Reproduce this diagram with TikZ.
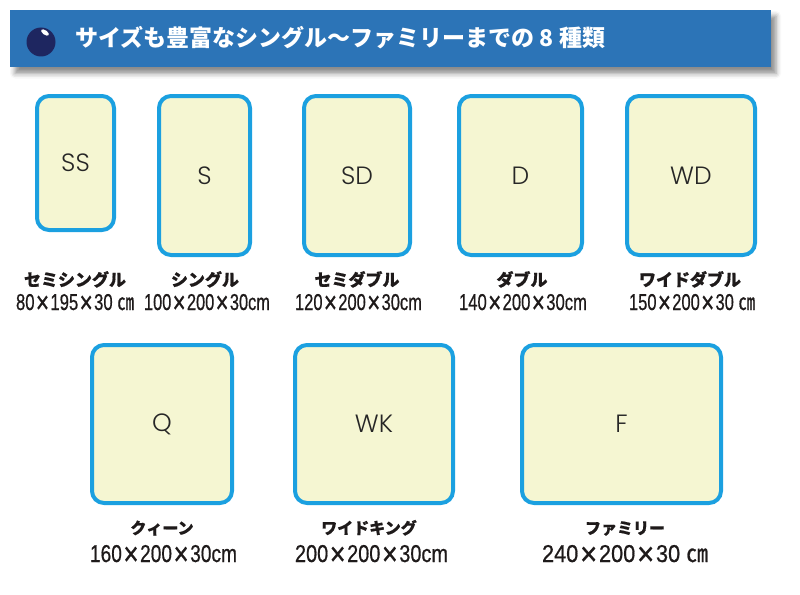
\documentclass[tikz,border=0pt]{standalone}
\usepackage{fontspec}
\usepackage{graphicx}
\setmainfont{Liberation Sans}
\newfontfamily\dimfont{Liberation Sans}[FakeBold=0.7]
\newfontfamily\cjk{Noto Sans CJK JP}
\newfontfamily\cjkdim{Noto Sans CJK JP}[FakeBold=1]
\newfontfamily\cjkname{Noto Sans CJK JP}[BoldFeatures={FakeBold=0.6}]
\newfontfamily\boxfont{Poppins Light}
\usetikzlibrary{shadows.blur}
\definecolor{bedblue}{RGB}{27,160,224}
\definecolor{bedfill}{RGB}{245,246,210}
\definecolor{hdrblue}{RGB}{44,116,183}
\definecolor{navyball}{RGB}{30,38,96}
\definecolor{inkc}{RGB}{30,26,26}
\tikzset{
  bed/.style={draw=bedblue, line width=4pt, fill=bedfill, rounded corners=12pt,
    inner sep=0pt, font=\boxfont\fontsize{25}{26}\selectfont, text=black!85},
  bedname/.style={anchor=base, inner sep=0pt, text=inkc,
    font=\cjkname\bfseries\fontsize{17}{18}\selectfont},
  bednametwo/.style={bedname, font=\cjkname\bfseries\fontsize{16}{17}\selectfont},
  beddim/.style={anchor=base, inner sep=0pt, text=inkc, font=\dimfont},
  header/.style={fill=hdrblue, inner sep=0pt,
    blur shadow={shadow xshift=5pt, shadow yshift=-6pt, shadow blur radius=5pt, shadow opacity=45}},
  icon/.style={circle, fill=navyball, inner sep=0pt, minimum size=29pt},
  titletext/.style={anchor=base west, inner sep=0pt, text=white,
    font=\cjk\bfseries\fontsize{23}{24}\selectfont}
}
\newcommand\dimtext[3]{\resizebox{#1pt}{#2pt}{#3}}
\newcommand\tms{\makebox[0.95em]{\raisebox{-0.125em}{\scalebox{1.35}{×}}}}
\newcommand\cmu{{\cjkdim ㎝}}
\begin{document}
\begin{tikzpicture}[x=1pt,y=-1pt]
\useasboundingbox (0,0) rectangle (800,594);
% header
\node[header, minimum width=761pt, minimum height=57.5pt] (hdr) at (390.5,38.75) {};
\node[icon] (ico) at (41,42) {};
\fill[white] (45,32.5) ellipse [x radius=4.5, y radius=2.2, rotate=-35];
\node[titletext] (title) at (75,46.5) {サイズも豊富なシングル～ファミリーまでの 8 種類};
% row 1 beds
\node[bed, minimum width=77pt, minimum height=134pt] (ss) at (75.5,163) {SS};
\node[bed, minimum width=91pt, minimum height=159pt] (s) at (204.5,175.5) {S};
\node[bed, minimum width=106pt, minimum height=159pt] (sd) at (357,175.5) {SD};
\node[bed, minimum width=123pt, minimum height=159pt] (d) at (520.5,175.5) {D};
\node[bed, minimum width=128pt, minimum height=159pt] (wd) at (691,175.5) {WD};
% row 1 labels
\node[bedname] (ssn) at (75,286) {セミシングル};
\node[bedname] (sn) at (205,286) {シングル};
\node[bedname] (sdn) at (357,286) {セミダブル};
\node[bedname] (dn) at (522,286) {ダブル};
\node[bedname] (wdn) at (690,286) {ワイドダブル};
\node[beddim] (ssd) at (75,310) {\dimtext{118}{16}{80\tms195\tms30 \cmu}};
\node[beddim] (sdim) at (207,310) {\dimtext{126}{16}{100\tms200\tms30cm}};
\node[beddim] (sdd) at (358.5,310) {\dimtext{127}{16}{120\tms200\tms30cm}};
\node[beddim] (dd) at (523,310) {\dimtext{128}{16}{140\tms200\tms30cm}};
\node[beddim] (wdd) at (692,310) {\dimtext{126}{16}{150\tms200\tms30 \cmu}};
% row 2 beds
\node[bed, minimum width=140pt, minimum height=158pt] (q) at (162,424) {Q};
\node[bed, minimum width=158pt, minimum height=158pt] (wk) at (374,424) {WK};
\node[bed, minimum width=199pt, minimum height=158pt] (f) at (621.5,424) {F};
% row 2 labels
\node[bednametwo] (qn) at (162,534) {クィーン};
\node[bednametwo] (wkn) at (369,534) {ワイドキング};
\node[bednametwo] (fn) at (625,534) {ファミリー};
\node[beddim] (qd) at (163.5,562) {\dimtext{147}{17}{160\tms200\tms30cm}};
\node[beddim] (wkd) at (371.5,562) {\dimtext{153}{17}{200\tms200\tms30cm}};
\node[beddim] (fd) at (625,562) {\dimtext{166}{17}{240\tms200\tms30 \cmu}};
\end{tikzpicture}
\end{document}
